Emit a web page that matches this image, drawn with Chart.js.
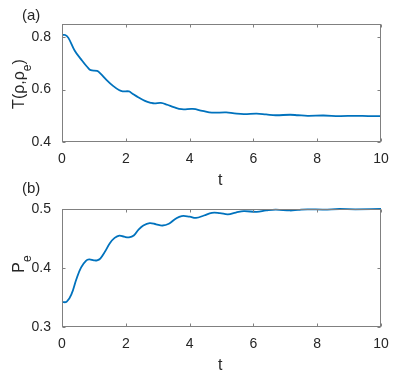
<!DOCTYPE html>
<html>
<head>
<meta charset="utf-8">
<script src="https://cdn.jsdelivr.net/npm/chart.js@4"></script>
<style>
  body { margin: 0; background: #fff; }
  #fig { position: relative; width: 395px; height: 375px; background: #fff; overflow: hidden;
         font-family: "Liberation Sans", Arial, sans-serif; color: #262626; }
  .cv { position: absolute; left: 0; }
  .lbl { position: absolute; white-space: nowrap; line-height: 16px; font-size: 16px; }
  .rot { transform: translate(-50%, -50%) rotate(-90deg); }
  .lbl sub { font-size: 75%; vertical-align: baseline; position: relative; top: 0.55em; line-height: 0; }
</style>
</head>
<body>
<div id="fig">
  <canvas id="chartA" class="cv" width="395" height="187" style="top:0px"></canvas>
  <canvas id="chartB" class="cv" width="395" height="187" style="top:185px"></canvas>

  <div class="lbl" style="left:22px; top:7px; font-size:15px;">(a)</div>
  <div class="lbl" style="left:22px; top:180px; font-size:15px;">(b)</div>
  <div class="lbl rot" style="left:19px; top:84px;">T(&rho;,&rho;<sub>e</sub>)</div>
  <div class="lbl rot" style="left:19px; top:264px;">P<sub>e</sub></div>
  <div class="lbl" style="left:218px; top:172px;">t</div>
  <div class="lbl" style="left:218px; top:357px;">t</div>
</div>

<script>
// values

// (a) T(rho, rho_e) against t
const tA = [0, 0.1, 0.2, 0.4, 0.6, 0.8, 0.9, 1.1, 1.2, 1.4, 1.6, 1.8, 1.9, 2.1, 2.2, 2.4, 2.6, 2.8, 2.9,
            3.1, 3.3, 3.5, 3.75, 4.1, 4.4, 4.7, 5.15, 5.4, 5.7, 6.1, 6.4, 6.7, 7.15, 7.4, 7.7, 8.2, 8.7, 9.2, 9.6, 10]
const T = [0.808, 0.808, 0.797, 0.748, 0.715, 0.685, 0.674, 0.671, 0.662, 0.636, 0.614, 0.597, 0.593, 0.593,
           0.585, 0.570, 0.557, 0.549, 0.547, 0.549, 0.542, 0.533, 0.525, 0.526, 0.519, 0.512, 0.513, 0.509,
           0.506, 0.508, 0.505, 0.502, 0.504, 0.502, 0.500, 0.501, 0.499, 0.500, 0.499, 0.499]

// (b) P_e against t
const tB = [0, 0.15, 0.3, 0.45, 0.6, 0.75, 0.85, 1.0, 1.1, 1.2, 1.35, 1.5, 1.65, 1.8, 1.95, 2.1, 2.25, 2.4,
            2.55, 2.75, 2.95, 3.15, 3.35, 3.55, 3.75, 4.0, 4.2, 4.45, 4.7, 4.95, 5.2, 5.45, 5.7, 6.1, 6.4,
            6.7, 7.15, 7.4, 7.7, 8.2, 8.7, 9.2, 10]
const Pe = [0.342, 0.343, 0.356, 0.381, 0.401, 0.412, 0.4145, 0.413, 0.413, 0.416, 0.428, 0.442, 0.451,
            0.455, 0.453, 0.452, 0.455, 0.465, 0.472, 0.476, 0.474, 0.472, 0.475, 0.483, 0.488, 0.487,
            0.485, 0.489, 0.4935, 0.493, 0.491, 0.494, 0.4965, 0.495, 0.4975, 0.499, 0.4975, 0.4985,
            0.4995, 0.499, 0.5, 0.4995, 0.5]

// tick labels
const xTicks = [0, 2, 4, 6, 8, 10]
const yTicksA = [0.4, 0.6, 0.8]
const yTicksB = [0.3, 0.4, 0.5]

const LINE_COLOR = "#0072BD"
const TEXT_COLOR = "#262626"
const BOX_COLOR = "#808080"

// box round the axes with little ticks pointing in, like matlab
const boxPlugin = {
  id: "box",
  afterDatasetsDraw(chart) {
    const ctx = chart.ctx
    const a = chart.chartArea
    const xs = chart.scales.x
    const ys = chart.scales.y
    const L = 3
    ctx.save()
    ctx.strokeStyle = BOX_COLOR
    ctx.lineWidth = 1
    const l = Math.round(a.left) + 0.5, r = Math.round(a.right) - 0.5
    const t = Math.round(a.top) + 0.5, b = Math.round(a.bottom) - 0.5
    ctx.strokeRect(l, t, r - l, b - t)
    ctx.beginPath()
    xs.ticks.forEach(tk => {
      const px = Math.round(xs.getPixelForValue(tk.value)) + 0.5
      ctx.moveTo(px, b); ctx.lineTo(px, b - L)
      ctx.moveTo(px, t); ctx.lineTo(px, t + L)
    })
    ys.ticks.forEach(tk => {
      const py = Math.round(ys.getPixelForValue(tk.value)) + 0.5
      ctx.moveTo(l, py); ctx.lineTo(l + L, py)
      ctx.moveTo(r, py); ctx.lineTo(r - L, py)
    })
    ctx.stroke()
    ctx.restore()
  }
}

function makeChart(id, xs, ys, ymin, ymax, yTicks, decimals) {
  return new Chart(document.getElementById(id), {
    type: "line",
    data: {
      datasets: [{
        data: xs.map((x, i) => ({x: x, y: ys[i]})),
        borderColor: LINE_COLOR,
        borderWidth: 1.8,
        pointRadius: 0,
        tension: 0.4,
        fill: false,
        clip: 3
      }]
    },
    options: {
      responsive: false,
      devicePixelRatio: 1,
      animation: false,
      layout: {padding: {top: 24, right: 14, left: 0, bottom: 0}},
      plugins: {legend: {display: false}, tooltip: {enabled: false}},
      scales: {
        x: {
          type: "linear",
          min: 0,
          max: 10,
          afterBuildTicks: s => { s.ticks = xTicks.map(v => ({value: v})) },
          afterFit: s => { s.height = 45; s.paddingLeft = 0; s.paddingRight = 0 },
          grid: {display: false, drawTicks: false},
          border: {display: false},
          ticks: {color: TEXT_COLOR, font: {family: "Liberation Sans", size: 14}, padding: 9, maxRotation: 0,
                  callback: v => String(v)}
        },
        y: {
          type: "linear",
          min: ymin,
          max: ymax,
          afterBuildTicks: s => { s.ticks = yTicks.map(v => ({value: v})) },
          afterFit: s => { s.width = 62; s.paddingTop = 0; s.paddingBottom = 0 },
          grid: {display: false, drawTicks: false},
          border: {display: false},
          ticks: {color: TEXT_COLOR, font: {family: "Liberation Sans", size: 14}, padding: 11,
                  callback: v => v.toFixed(decimals)}
        }
      }
    },
    plugins: [boxPlugin]
  })
}

makeChart("chartA", tA, T, 0.4, 0.85, yTicksA, 1)
makeChart("chartB", tB, Pe, 0.3, 0.5, yTicksB, 1)
</script>
</body>
</html>
